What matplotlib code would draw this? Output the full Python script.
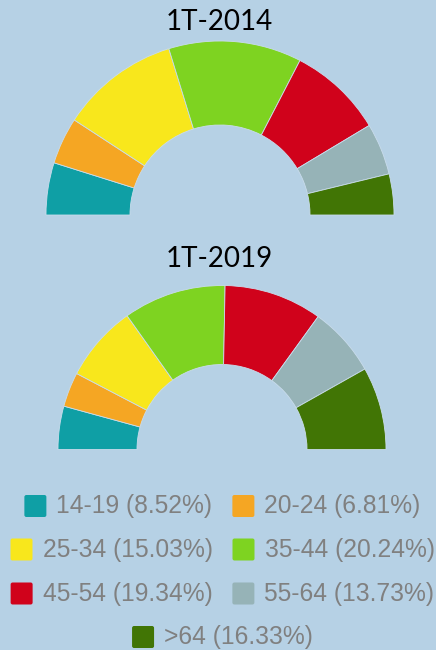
import matplotlib
matplotlib.use("Agg")
import matplotlib.pyplot as plt
from matplotlib.patches import FancyBboxPatch

# data
age_groups = ["14-19", "20-24", "25-34", "35-44", "45-54", "55-64", ">64"]
share_2014 = [9.7, 8.7, 22.1, 24.7, 17.6, 9.6, 7.6]
share_2019 = [8.52, 6.81, 15.03, 20.24, 19.34, 13.73, 16.33]
colors = ["#0f9fa5", "#f5a623", "#f8e71c", "#7ed321", "#d0021b", "#96b3b7", "#417505"]
titles = ["1T-2014", "1T-2019"]

BG = "#b6d1e5"
W, H = 436, 650

fig = plt.figure(figsize=(W / 100, H / 100), dpi=100, facecolor=BG)


def half_donut(values, cx, cy, r, ring):
    # cx, cy in pixels from top-left
    ax = fig.add_axes([(cx - r) / W, (H - cy - r) / H, 2 * r / W, 2 * r / H])
    ax.set_facecolor("none")
    total = sum(values)
    wedges, _ = ax.pie(values + [total], startangle=180, counterclock=False,
                       colors=colors + ["none"], radius=1,
                       wedgeprops=dict(width=ring / r, linewidth=0.6, edgecolor="#c9dcec"))
    wedges[-1].set_edgecolor("none")
    ax.set_xlim(-1, 1)
    ax.set_ylim(-1, 1)
    ax.axis("off")


half_donut(share_2014, 220, 215, 174, 84)
half_donut(share_2019, 222, 449.5, 164, 79)

# overlay in pixel coordinates for titles and legend
ov = fig.add_axes([0, 0, 1, 1])
ov.set_xlim(0, W)
ov.set_ylim(H, 0)
ov.axis("off")
ov.set_facecolor("none")

ov.text(219, 22, titles[0], fontsize=20, family="Lato", color="black", ha="center", va="center")
ov.text(219, 259, titles[1], fontsize=20, family="Lato", color="black", ha="center", va="center")

legend_rows = [[0, 1], [2, 3], [4, 5], [6]]
row_y = [506, 549.5, 593.5, 637]
box, gap_txt, gap_item, center_x = 24, 9, 19, 222

fig.canvas.draw()
renderer = fig.canvas.get_renderer()
for row, y in zip(legend_rows, row_y):
    texts = []
    for i in row:
        label = f"{age_groups[i]} ({share_2019[i]:.2f}%)"
        t = ov.text(0, y, label, fontsize=17.7, family="Liberation Sans", color="#808080",
                    ha="left", va="center")
        texts.append(t)
    widths = [t.get_window_extent(renderer).width for t in texts]
    total = sum(box + gap_txt + w for w in widths) + gap_item * (len(row) - 1)
    x = center_x - total / 2
    for i, t, w in zip(row, texts, widths):
        ov.add_patch(FancyBboxPatch((x + 1, y - box / 2 + 1), box - 2, box - 2,
                                    boxstyle="round,pad=0,rounding_size=2",
                                    facecolor=colors[i], edgecolor="none"))
        t.set_x(x + box + gap_txt)
        x += box + gap_txt + w + gap_item

fig.savefig("out.png", dpi=100, facecolor=BG)
